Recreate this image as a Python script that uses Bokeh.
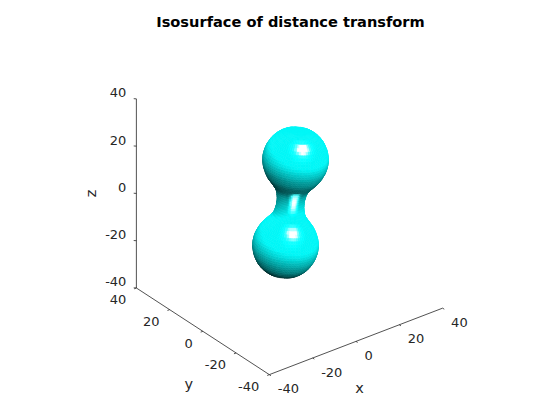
import numpy as np
from bokeh.plotting import figure
from bokeh.models import Range1d, ColumnDataSource
from bokeh.core.properties import value
from bokeh.embed import file_html
from bokeh.resources import INLINE

TITLE = "Isosurface of distance transform"
x_ticks = [-40, -20, 0, 20, 40]
y_ticks = [-40, -20, 0, 20, 40]
z_ticks = [-40, -20, 0, 20, 40]
axis_lim = (-40, 40)

# blob: lobes' axis end points and radius per axial station
axis_top = (2.8, 0.0, 17.6)
axis_bottom = (-1.85, 0.0, -17.1)
stations = [0, 1, 2, 3, 4, 5, 6, 7, 8, 9, 10, 11, 12, 13, 14, 15, 16, 17, 18, 19,
            20, 21, 22, 23, 24, 25, 26, 27, 28, 29, 29.5]
radii = [5.0, 5.0, 5.1, 5.3, 5.5, 5.9, 6.4, 7.2, 8.0, 8.8, 9.6, 10.2, 10.7, 11.1, 11.5,
         11.75, 11.9, 12.0, 12.0, 11.9, 11.7, 11.45, 11.1, 10.6, 10.1, 9.4, 8.5, 7.4,
         5.8, 3.3, 0.05]

# view
az, el = np.radians(37.5), np.radians(30.0)
SCALE = 2.73            # px per data unit
ORIGIN = (289.0, 203.0) # image px of data origin
R = np.array([np.cos(az), -np.sin(az), 0.0])
U = np.array([np.sin(az) * np.sin(el), np.cos(az) * np.sin(el), np.cos(el)])
D = np.array([-np.sin(az) * np.cos(el), -np.cos(az) * np.cos(el), np.sin(el)])


def proj(p):
    p = np.asarray(p, float)
    return p @ R, p @ U


# frame spans image px 28..552 horizontally, 38..412 vertically
FW, FH, ML, MT = 524, 374, 28, 38
x0 = (ML - ORIGIN[0]) / SCALE
y1 = (ORIGIN[1] - MT) / SCALE
p = figure(width=FW + ML, height=FH + MT, output_backend="svg", toolbar_location=None,
           x_range=Range1d(x0, x0 + FW / SCALE), y_range=Range1d(y1 - FH / SCALE, y1),
           min_border_left=ML, min_border_right=0, min_border_top=MT, min_border_bottom=0,
           title=TITLE, outline_line_color=None, background_fill_color="white")
p.xaxis.visible = False
p.yaxis.visible = False
p.grid.visible = False
p.title.align = "center"
p.title.text_font = "DejaVu Sans"
p.title.text_font_size = "14.6px"
p.title.text_font_style = "bold"
p.title.text_color = "black"
p.title.standoff = 18

# --- surface mesh: revolve the radius profile round the axis
top, bot = np.array(axis_top), np.array(axis_bottom)
mid = (top + bot) / 2
a = (top - bot) / np.linalg.norm(top - bot)
e1 = np.cross(a, D); e1 /= np.linalg.norm(e1)
e2 = np.cross(a, e1)
s_half = np.array(stations, float)
r_half = np.array(radii, float)
s = np.concatenate([-s_half[::-1], s_half[1:]])
r = np.concatenate([r_half[::-1], r_half[1:]])
dr = np.gradient(r, s)
t = np.linspace(0, 2 * np.pi, 73)

Lw = 0.25 * R + 0.75 * U + 0.60 * D
Lw /= np.linalg.norm(Lw)
H_lobe = 0.21 * R + 0.30 * U + 0.93 * D
H_lobe /= np.linalg.norm(H_lobe)
H_neck = H_lobe - (H_lobe @ a) * a
H_neck /= np.linalg.norm(H_neck)

xs, ys, cols, depth = [], [], [], []
for i in range(len(s) - 1):
    sm = (s[i] + s[i + 1]) / 2
    lobe_part = min(max((abs(sm) - 6.0) / 2.0, 0.0), 1.0)
    neck_part = max(1 - ((sm - 2.4) / 5.0) ** 2, 0.0)
    for j in range(len(t) - 1):
        corners = []
        for ii, jj in ((i, j), (i + 1, j), (i + 1, j + 1), (i, j + 1)):
            er = np.cos(t[jj]) * e1 + np.sin(t[jj]) * e2
            corners.append(mid + s[ii] * a + r[ii] * er)
        corners = np.array(corners)
        tm = (t[j] + t[j + 1]) / 2
        er = np.cos(tm) * e1 + np.sin(tm) * e2
        n = er - ((dr[i] + dr[i + 1]) / 2) * a
        n /= np.linalg.norm(n)
        if n @ D < -0.05:
            continue
        f = (n @ Lw + 1) / 2
        c = min(max(1.45 * f - 0.05, 0.18), 0.97)
        w_lobe = min(max(n @ H_lobe, 0.0) ** 30 * 1.4, 1.0) ** 2
        # on the neck the highlight is a short soft streak above the waist
        w_neck = min(max(er @ H_neck, 0.0) ** 25 * 1.2, 1.0) ** 2
        w = min(neck_part * w_neck + lobe_part * w_lobe, 1.0)
        # the cyan lifts before the white comes in, so a highlight never greys
        g = min(c + 1.6 * w, 1.0)
        rr = w ** 1.3
        cols.append("#%02x%02x%02x" % (int(255 * rr), int(255 * g), int(255 * g)))
        px, py = proj(corners)
        xs.append(px.tolist())
        ys.append(py.tolist())
        depth.append(corners.mean(axis=0) @ D)

order = np.argsort(depth)
p.patches([xs[k] for k in order], [ys[k] for k in order],
          fill_color=[cols[k] for k in order], line_color=[cols[k] for k in order],
          line_width=0.6)

# --- box axes
lo, hi = axis_lim
tick = 1.0
segs = [((lo, lo, lo), (hi, lo, lo)), ((lo, lo, lo), (lo, hi, lo)), ((lo, hi, lo), (lo, hi, hi))]
for v in x_ticks:
    segs.append(((v, lo, lo), (v, lo - tick, lo)))
for v in y_ticks:
    segs.append(((lo, v, lo), (lo - tick, v, lo)))
for v in z_ticks:
    segs.append(((lo, hi, v), (lo - tick * 0.7, hi + tick * 0.7, v)))
sx, sy = [], []
for q0, q1 in segs:
    a0, b0 = proj(q0)
    a1, b1 = proj(q1)
    sx.append([a0, a1])
    sy.append([b0, b1])
p.multi_line(sx, sy, line_color="#262626", line_width=0.8)


def labels(pts, text, dx, dy, align):
    px, py = zip(*[proj(q) for q in pts])
    src = ColumnDataSource(dict(x=list(px), y=list(py), t=text))
    p.text("x", "y", text="t", source=src, x_offset=dx, y_offset=dy, text_align=align,
           text_baseline="middle", text_font=value("DejaVu Sans"), text_font_size="13px",
           text_color="#262626")


labels([(v, lo, lo) for v in x_ticks], [str(v) for v in x_ticks], 8.5, 14, "left")
labels([(lo, v, lo) for v in y_ticks], [str(v) for v in y_ticks], -10, 12, "right")
labels([(lo, hi, v) for v in z_ticks], [str(v) for v in z_ticks], -10, -6, "right")


def axis_label(q, text, dx, dy, angle=0.0):
    px, py = proj(q)
    p.text([px], [py], text=[text], x_offset=dx, y_offset=dy, angle=angle, text_align="center",
           text_baseline="middle", text_font=value("DejaVu Sans"), text_font_size="14.5px",
           text_color="#262626")


axis_label((0, lo, lo), "x", 3.5, 47)
axis_label((lo, 0, lo), "y", -14, 53)
axis_label((lo, hi, 0), "z", -45, 0, np.pi / 2)

open("out.html", "w").write(file_html(p, INLINE))
